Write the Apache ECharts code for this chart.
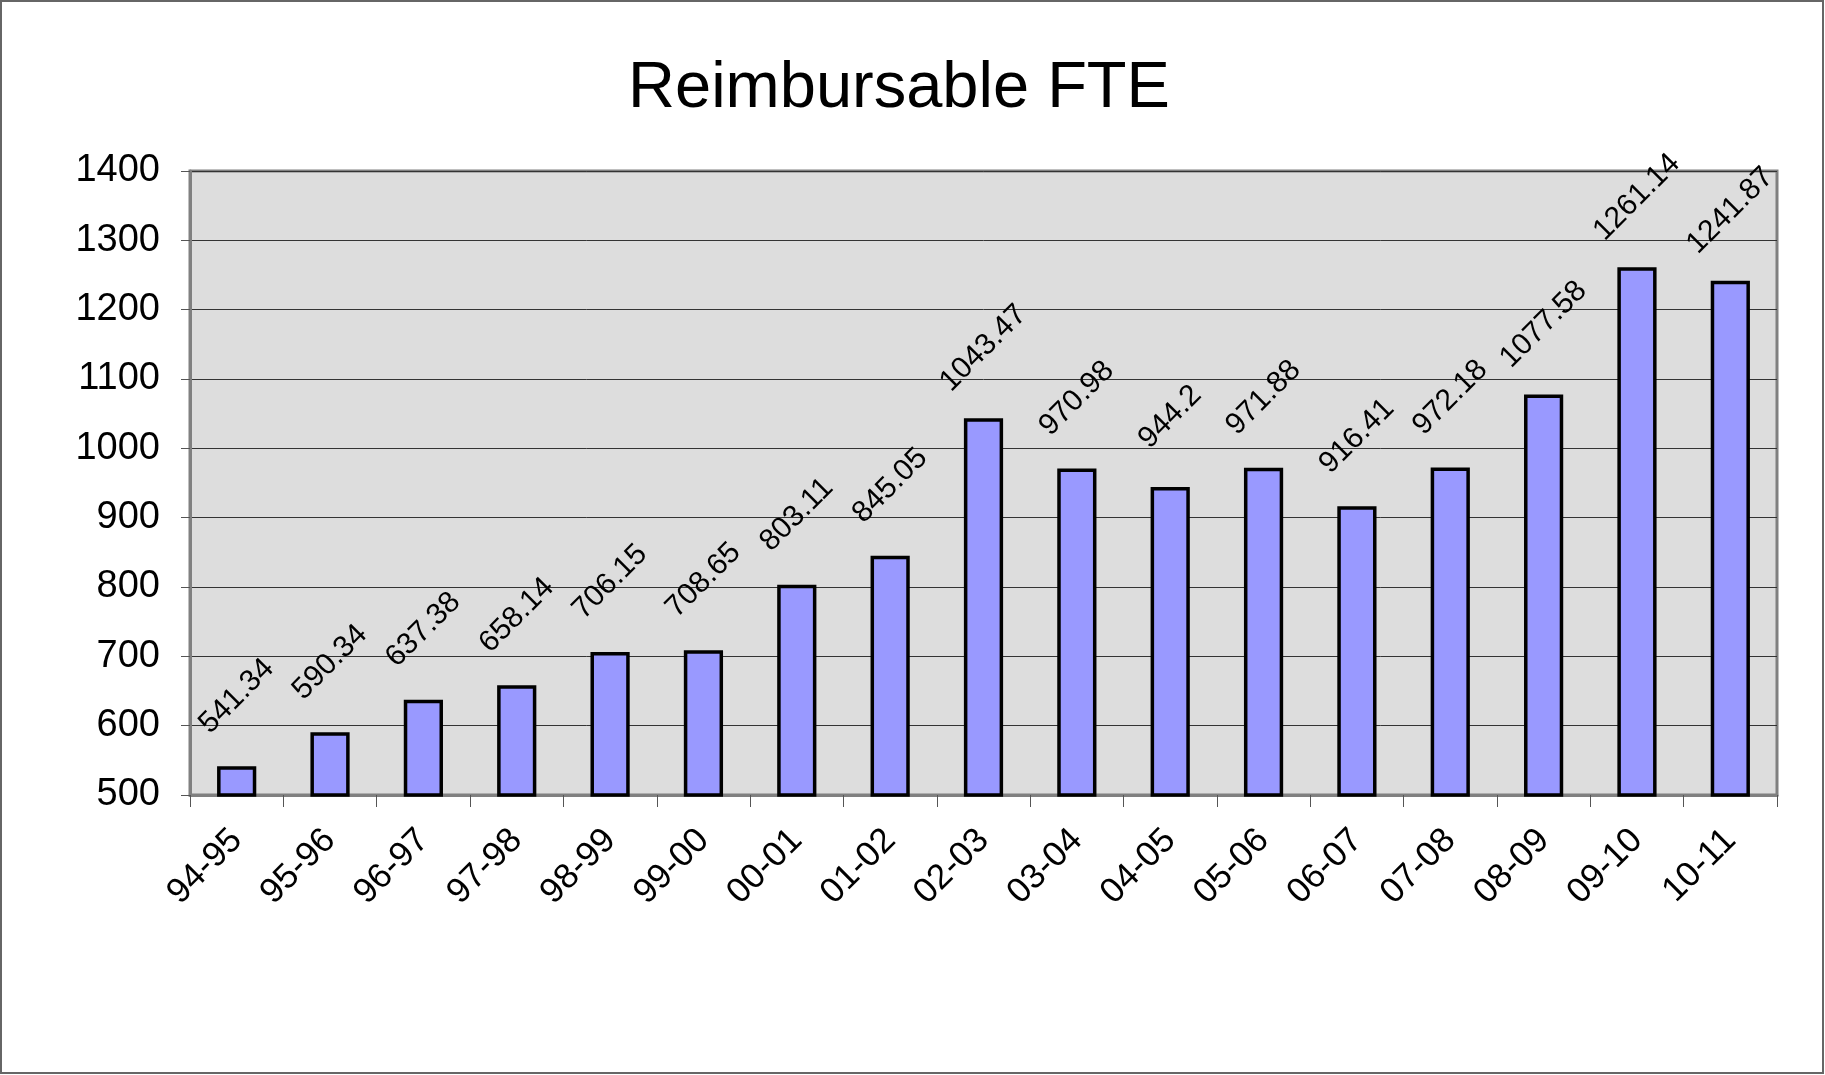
<!DOCTYPE html>
<html>
<head>
<meta charset="utf-8">
<script src="https://cdn.jsdelivr.net/npm/echarts@6/dist/echarts.min.js"></script>
<style>
  html, body { margin: 0; padding: 0; background: #fff; }
  #chart { width: 1825px; height: 1075px; }
</style>
</head>
<body>
<div id="chart"></div>
<script>
// fiscal years
const years = ["94-95", "95-96", "96-97", "97-98", "98-99", "99-00", "00-01", "01-02", "02-03",
  "03-04", "04-05", "05-06", "06-07", "07-08", "08-09", "09-10", "10-11"];
// reimbursable FTE per year
const fte = [541.34, 590.34, 637.38, 658.14, 706.15, 708.65, 803.11, 845.05, 1043.47,
  970.98, 944.2, 971.88, 916.41, 972.18, 1077.58, 1261.14, 1241.87];
const yMin = 500;
const yMax = 1400;
const yStep = 100;

const chart = echarts.init(document.getElementById("chart"));

const option = {
  backgroundColor: "#fff",
  animation: false,
  textStyle: { fontFamily: "Liberation Sans, Arial, sans-serif" },
  title: {
    text: "Reimbursable FTE",
    left: 894,
    textAlign: "center",
    top: 52,
    textStyle: { fontSize: 65, fontWeight: "normal", color: "#000" },
  },
  graphic: [
    {
      type: "rect",
      shape: { x: 1, y: 1, width: 1822, height: 1072 },
      style: { fill: "none", stroke: "#666", lineWidth: 2 },
      silent: true,
    },
  ],
  grid: {
    left: 190,
    right: 48,
    top: 171,
    bottom: 280,
    show: true,
    backgroundColor: "#DDDDDD",
    borderColor: "#808080",
    borderWidth: 3,
  },
  xAxis: {
    type: "category",
    data: years,
    axisLine: { lineStyle: { color: "#808080", width: 3 } },
    axisTick: { show: true, length: 12, lineStyle: { color: "#555", width: 1 } },
    axisLabel: {
      rotate: 45,
      interval: 0,
      fontSize: 35,
      color: "#000",
      margin: 40,
    },
  },
  yAxis: {
    type: "value",
    min: yMin,
    max: yMax,
    interval: yStep,
    axisLine: { show: true, lineStyle: { color: "#808080", width: 3 } },
    axisTick: { show: true, length: 9, lineStyle: { color: "#555", width: 1 } },
    axisLabel: {
      fontSize: 38,
      color: "#000",
      margin: 30,
      formatter: (v) => String(v),
    },
    splitLine: { lineStyle: { color: "#333", width: 1 } },
  },
  series: [
    {
      type: "bar",
      data: fte,
      barWidth: "42%",
      itemStyle: { color: "#9999FF", borderColor: "#000", borderWidth: 3.5 },
      label: {
        show: true,
        position: "top",
        rotate: 45,
        align: "center",
        verticalAlign: "middle",
        distance: 70,
        fontSize: 30,
        color: "#000",
      },
    },
  ],
};

chart.setOption(option);
</script>
</body>
</html>
